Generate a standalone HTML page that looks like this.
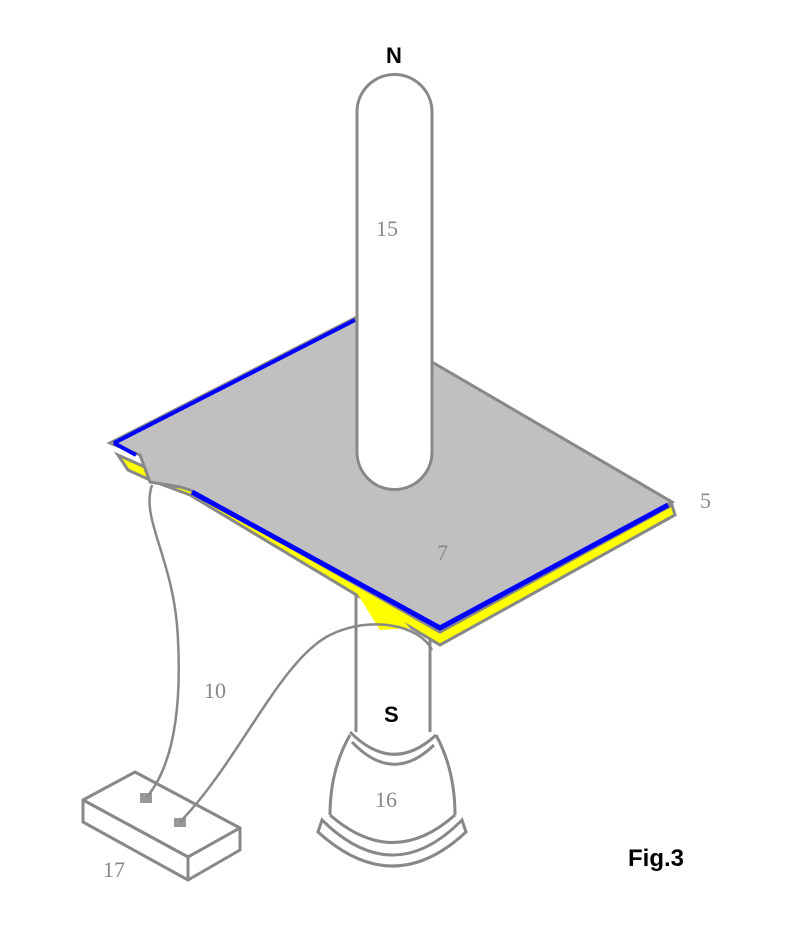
<!DOCTYPE html>
<html><head><style>body{margin:0;background:#fff}svg{display:block}</style></head><body>
<svg width="798" height="936" viewBox="0 0 798 936" xmlns="http://www.w3.org/2000/svg" font-family="Liberation Serif, serif">
<g stroke="#888" stroke-width="3" fill="none">
<path d="M356 590 L356 732 M430 640 L430 732" />
<path d="M350 732 Q393 775 436 735" />
<path d="M352 742 Q393 785 434 745" />
<path d="M350 735 Q330 770 330 815 M436 735 Q455 770 455 815" fill="none"/>
<path d="M330 815 Q393 870 455 815" />
<path d="M322 820 Q393 890 462 820 L466 832 Q393 900 318 832 Z" fill="#fff"/>
</g>
<polygon points="118,455 128,470 150,480 190,495 440,645 675,515 672,505 440,632 185,485" fill="#ff0" stroke="#888" stroke-width="3"/>
<polygon points="355,590 375,590 410,628 380,630" fill="#ff0"/>
<polygon points="110,443 355,318 432,362 672,502 440,632 190,490 180,487 150,482 140,455" fill="#c0c0c0" stroke="#888" stroke-width="3"/>
<path d="M114 443 L355 320" stroke="#00f" stroke-width="4"/>
<path d="M114 443 L136 455" stroke="#00f" stroke-width="4"/>
<path d="M192 492 L440 628 L668 505" stroke="#00f" stroke-width="5" fill="none"/>
<path d="M357 452 L357 112 A37.5 37.5 0 0 1 432 112 L432 452 A37.5 37.5 0 0 1 357 452 Z" fill="#fff" stroke="#888" stroke-width="3"/>
<g stroke="#888" stroke-width="3" fill="#fff" stroke-linejoin="round">
<polygon points="83,800 135,772 240,828 188,857"/>
<polygon points="83,800 188,857 188,880 83,822"/>
<polygon points="188,857 240,828 240,850 188,880"/>
</g>
<rect x="140" y="793" width="12" height="10" fill="#999"/>
<rect x="174" y="818" width="12" height="9" fill="#999"/>
<g stroke="#888" stroke-width="2.5" fill="none">
<path d="M152 485 C140 520 175 560 178 640 C182 720 170 770 146 798"/>
<path d="M180 822 C240 760 280 660 330 635 C370 615 420 625 432 650"/>
</g>
<g fill="#888" font-size="22">
<text x="376" y="236">15</text>
<text x="437" y="560">7</text>
<text x="700" y="508">5</text>
<text x="204" y="698">10</text>
<text x="375" y="807">16</text>
<text x="103" y="877">17</text>
</g>
<g font-family="Liberation Sans, sans-serif" font-weight="bold" fill="#000">
<text x="386" y="63" font-size="22">N</text>
<text x="384" y="722" font-size="22">S</text>
<text x="628" y="866" font-size="24">Fig.3</text>
</g>
</svg>
</body></html>
